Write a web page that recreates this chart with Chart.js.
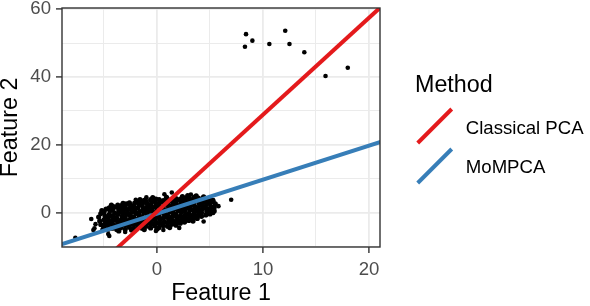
<!DOCTYPE html>
<html><head><meta charset="utf-8">
<script src="https://cdn.jsdelivr.net/npm/chart.js@4.4.1/dist/chart.umd.min.js"></script>
<style>html,body{margin:0;padding:0;background:#fff;} #wrap{width:590px;height:306px;}</style>
</head><body><div id="wrap"><canvas id="c" width="590" height="306"></canvas></div>
<script>
const FONT = '"Liberation Sans", Arial, Helvetica, sans-serif';

// tick values
const xMajorTicks = [0, 10, 20];
const xMinorTicks = [-5, 5, 15];
const yMajorTicks = [0, 20, 40, 60];
const yMinorTicks = [-10, 10, 30, 50];

// legend / methods
const methods = ['Classical PCA', 'MoMPCA'];
const methodColors = ['#E41A1C', '#377EB8'];

// fitted direction lines (endpoints, clipped by the panel)
const pcaLineX = [-4.2, 21.5];
const pcaLineY = [-11.6, 61.7];
const momLineX = [-9.5, 21.5];
const momLineY = [-9.7, 21.3];

// main point cloud
const cloudPoints = [
[-5.5,-1.2],[-5.4,-2.4],[-5.3,-0.2],[-5.3,-3.4],[-5.2,0.7],
[-5.0,-4.3],[-4.9,-3.2],[-5.0,-2.0],[-4.9,-0.9],[-5.0,0.2],[-4.8,1.1],
[-4.6,-4.8],[-4.6,-3.7],[-4.5,-2.6],[-4.6,-1.5],[-4.5,-0.4],[-4.4,0.7],[-4.5,1.5],
[-4.2,-4.5],[-4.1,-3.4],[-4.2,-2.2],[-4.1,-1.1],[-4.0,0.0],[-4.2,1.0],[-4.1,1.9],
[-3.8,-4.9],[-3.8,-3.8],[-3.7,-2.6],[-3.8,-1.5],[-3.7,-0.4],[-3.6,0.7],[-3.8,1.7],[-3.7,2.3],
[-3.4,-4.3],[-3.3,-3.2],[-3.4,-2.1],[-3.3,-1.0],[-3.2,0.1],[-3.4,1.2],[-3.3,2.2],
[-3.0,-4.8],[-3.0,-3.6],[-2.9,-2.5],[-3.0,-1.4],[-2.9,-0.3],[-2.8,0.8],[-3.0,1.9],[-2.9,2.7],
[-2.6,-4.2],[-2.5,-3.1],[-2.6,-2.0],[-2.5,-0.9],[-2.4,0.2],[-2.6,1.3],[-2.5,2.3],[-2.6,3.0],
[-2.2,-4.6],[-2.2,-3.4],[-2.1,-2.3],[-2.2,-1.2],[-2.0,-0.1],[-2.1,1.0],[-2.2,2.0],[-2.1,2.9],
[-1.8,-4.0],[-1.7,-2.9],[-1.8,-1.8],[-1.7,-0.7],[-1.6,0.4],[-1.8,1.5],[-1.7,2.5],[-1.8,3.3],
[-1.4,-4.5],[-1.4,-3.3],[-1.3,-2.2],[-1.4,-1.1],[-1.2,0.0],[-1.3,1.1],[-1.4,2.2],[-1.3,3.1],[-1.2,3.7],
[-1.0,-3.9],[-0.9,-2.8],[-1.0,-1.7],[-0.9,-0.6],[-0.8,0.5],[-1.0,1.6],[-0.9,2.6],[-1.0,3.4],
[-0.6,-4.4],[-0.6,-3.2],[-0.5,-2.1],[-0.6,-1.0],[-0.4,0.1],[-0.5,1.2],[-0.6,2.3],[-0.5,3.2],[-0.6,3.9],
[-0.2,-3.8],[-0.1,-2.7],[-0.2,-1.6],[-0.1,-0.5],[0.0,0.6],[-0.2,1.7],[-0.1,2.7],[-0.2,3.5],[-0.1,4.1],
[0.2,-4.3],[0.2,-3.1],[0.3,-2.0],[0.2,-0.9],[0.4,0.2],[0.3,1.3],[0.2,2.3],[0.3,3.2],[0.2,3.9],
[0.6,-3.7],[0.7,-2.6],[0.6,-1.5],[0.7,-0.4],[0.8,0.7],[0.6,1.8],[0.7,2.8],[0.6,3.6],
[1.0,-3.9],[1.0,-2.9],[1.1,-1.8],[1.0,-0.7],[1.2,0.4],[1.1,1.5],[1.0,2.5],[1.1,3.4],[1.0,4.0],
[1.4,-3.3],[1.5,-2.3],[1.4,-1.2],[1.5,-0.1],[1.6,1.0],[1.4,2.1],[1.5,3.1],[1.4,3.9],
[1.8,-3.6],[1.8,-2.6],[1.9,-1.5],[1.8,-0.4],[2.0,0.7],[1.9,1.8],[1.8,2.8],[1.9,3.7],[1.8,4.2],
[2.2,-3.0],[2.3,-2.0],[2.2,-0.9],[2.3,0.2],[2.4,1.3],[2.2,2.4],[2.3,3.4],[2.2,4.1],
[2.6,-2.7],[2.6,-1.6],[2.7,-0.5],[2.6,0.6],[2.8,1.7],[2.7,2.8],[2.6,3.7],[2.7,4.4],
[3.0,-2.2],[3.1,-1.2],[3.0,-0.1],[3.1,1.0],[3.2,2.1],[3.0,3.2],[3.1,4.0],[3.0,4.6],
[3.4,-2.4],[3.4,-1.4],[3.5,-0.3],[3.4,0.8],[3.6,1.9],[3.5,3.0],[3.4,3.9],[3.5,4.6],
[3.8,-1.6],[3.9,-0.6],[3.8,0.5],[3.9,1.6],[4.0,2.7],[3.8,3.6],[3.9,4.4],
[4.2,-1.0],[4.2,0.1],[4.3,1.2],[4.2,2.3],[4.4,3.3],[4.3,4.2],
[4.6,-0.6],[4.7,0.4],[4.6,1.5],[4.7,2.6],[4.8,3.5],[4.6,4.1],
[5.0,-0.3],[5.0,0.8],[5.1,1.9],[5.0,2.9],[5.1,3.7],
[5.4,0.6],[5.4,1.7],[5.5,2.7],[5.3,3.4],
// in-fill between the columns above
[-4.8,-2.6],[-4.4,-3.2],[-4.3,-0.9],[-3.9,-2.1],[-3.5,-3.6],[-3.5,0.2],[-3.1,-2.0],[-3.1,1.3],
[-2.7,-3.5],[-2.7,-0.4],[-2.3,-1.6],[-2.3,1.6],[-1.9,-3.3],[-1.9,0.0],[-1.5,-1.6],[-1.5,2.7],
[-1.1,-3.3],[-1.1,0.9],[-0.7,-1.5],[-0.7,1.8],[-0.3,-3.2],[-0.3,0.1],[0.1,-1.3],[0.1,2.2],
[0.5,-3.2],[0.5,0.9],[0.9,-1.2],[0.9,3.0],[1.3,-2.7],[1.3,0.4],[1.7,-0.9],[1.7,2.6],
[2.1,-2.4],[2.1,1.0],[2.5,-1.1],[2.5,3.1],[2.9,-1.7],[2.9,1.4],[3.3,-0.8],[3.3,2.5],
[3.7,-1.0],[3.7,1.2],[4.1,0.6],[4.1,3.0],[4.5,1.9],[4.9,1.2],
// ragged upper and lower rim
[0.9,4.6],[1.6,4.5],[2.4,4.8],[2.9,5.1],[3.7,5.0],[4.4,4.7],[-0.4,4.5],[-1.6,3.9],
[-3.2,2.8],[-4.3,2.3],[-5.1,-4.8],[-3.6,-5.3],[-2.4,-5.0],[-1.2,-4.9],[0.0,-4.7],[1.2,-4.3]
];

// scattered points around the cloud edge
const edgePoints = [
[-7.7,-7.3],[-6.0,-5.0],[-5.9,-4.5],[-4.5,-6.8],[-4.6,-6.2],[-6.2,-1.8],[-5.8,-3.3],
[0.6,-5.0],[1.4,6.0],[0.7,5.5],[-3.0,-5.6],[2.1,-4.4],[3.2,5.4],[-1.0,4.6],[4.4,-2.5],
[5.3,3.8],[5.8,2.0],[5.3,0.0],[7.0,3.9],[-2.0,3.9],[-0.1,-5.3]
];

// far outliers (upper right)
const outlierPoints = [
[8.4,52.6],[9.0,50.7],[8.3,48.9],[10.6,49.7],[12.1,53.6],[12.5,49.7],[13.9,47.3],[15.9,40.3],[18.0,42.7]
];

const allTicks = (a, b) => a.concat(b).sort((p, q) => p - q).map(v => ({ value: v }));

const panelAndLegend = {
  id: 'panelAndLegend',
  afterDraw(chart) {
    const { ctx, chartArea: a } = chart;
    ctx.save();
    ctx.strokeStyle = '#333333';
    ctx.lineWidth = 1.4;
    ctx.strokeRect(a.left, a.top, a.right - a.left, a.bottom - a.top);
    ctx.fillStyle = '#000';
    ctx.textBaseline = 'alphabetic';
    ctx.textAlign = 'left';
    ctx.font = '23.3px ' + FONT;
    ctx.fillText('Method', 415, 91.5);
    ctx.font = '18.6px ' + FONT;
    const keyCY = [126, 166];
    const baseY = [133.7, 173.3];
    methods.forEach((m, i) => {
      ctx.strokeStyle = methodColors[i];
      ctx.lineWidth = 4;
      ctx.lineCap = 'butt';
      ctx.beginPath();
      ctx.moveTo(434.7 - 17, keyCY[i] + 17);
      ctx.lineTo(434.7 + 17, keyCY[i] - 17);
      ctx.stroke();
      ctx.fillText(chart.data.datasets[i].label, 465.8, baseY[i]);
    });
    ctx.restore();
  }
};

const toXY = (xs, ys) => xs.map((x, i) => ({ x: x, y: ys[i] }));
const pairs = arr => arr.map(p => ({ x: p[0], y: p[1] }));

new Chart(document.getElementById('c'), {
  type: 'scatter',
  data: {
    datasets: [
      { type: 'line', label: methods[0], data: toXY(pcaLineX, pcaLineY), borderColor: methodColors[0], borderWidth: 4, pointRadius: 0, fill: false, tension: 0, clip: 0 },
      { type: 'line', label: methods[1], data: toXY(momLineX, momLineY), borderColor: methodColors[1], borderWidth: 4, pointRadius: 0, fill: false, tension: 0, clip: 0 },
      { type: 'scatter', label: 'cloud', data: pairs(cloudPoints), backgroundColor: '#000', borderWidth: 0, pointRadius: 2.6, pointHoverRadius: 2.6 },
      { type: 'scatter', label: 'points', data: pairs(edgePoints.concat(outlierPoints)), backgroundColor: '#000', borderWidth: 0, pointRadius: 2.3, pointHoverRadius: 2.3 }
    ]
  },
  options: {
    responsive: false,
    animation: false,
    devicePixelRatio: 1,
    events: [],
    layout: { padding: { left: 0, top: 8, right: 210, bottom: 0 } },
    plugins: { legend: { display: false }, tooltip: { enabled: false } },
    scales: {
      x: {
        type: 'linear', min: -8.96, max: 21.04,
        afterBuildTicks: s => { s.ticks = allTicks(xMajorTicks, xMinorTicks); },
        afterFit: s => { s.height = 59; s.paddingLeft = 0; s.paddingRight = 0; },
        border: { display: false },
        grid: {
          color: '#EBEBEB',
          lineWidth: c => xMajorTicks.includes(c.tick.value) ? 1.8 : 1.0,
          drawTicks: true, tickLength: 6, tickWidth: 1.4,
          tickColor: c => xMajorTicks.includes(c.tick.value) ? '#333333' : 'rgba(0,0,0,0)'
        },
        ticks: {
          autoSkip: false, maxRotation: 0, padding: 8, color: '#4D4D4D',
          font: { family: FONT, size: 18.6, lineHeight: 1 },
          callback: v => xMajorTicks.includes(v) ? String(v) : ''
        },
        title: { display: true, text: 'Feature 1', color: '#000', font: { family: FONT, size: 23.3, lineHeight: 1 }, padding: { top: 0, bottom: 1 } }
      },
      y: {
        type: 'linear', min: -10.02, max: 60.3,
        afterBuildTicks: s => { s.ticks = allTicks(yMajorTicks, yMinorTicks); },
        afterFit: s => { s.width = 62; s.paddingTop = 0; s.paddingBottom = 0; },
        border: { display: false },
        grid: {
          color: '#EBEBEB',
          lineWidth: c => yMajorTicks.includes(c.tick.value) ? 1.8 : 1.0,
          drawTicks: true, tickLength: 6, tickWidth: 1.4,
          tickColor: c => yMajorTicks.includes(c.tick.value) ? '#333333' : 'rgba(0,0,0,0)'
        },
        ticks: {
          autoSkip: false, padding: 5, color: '#4D4D4D',
          font: { family: FONT, size: 18.6, lineHeight: 1 },
          callback: v => yMajorTicks.includes(v) ? String(v) : ''
        },
        title: { display: true, text: 'Feature 2', color: '#000', font: { family: FONT, size: 23.3, lineHeight: 1 }, padding: { top: -1, bottom: 0 } }
      }
    }
  },
  plugins: [panelAndLegend]
});
</script>
</body></html>
